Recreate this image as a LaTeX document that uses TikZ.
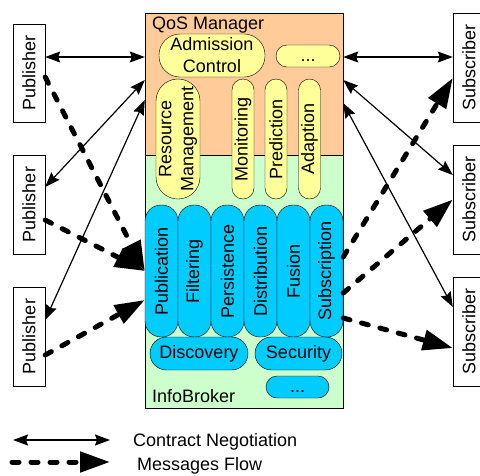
\documentclass[tikz,border=0pt]{standalone}
\usepackage{fontspec}
\setmainfont{Liberation Sans}
\usepackage{graphicx}
\usetikzlibrary{arrows.meta}

\definecolor{qosorange}{HTML}{FFCC99}
\definecolor{brokergreen}{HTML}{CCFFCC}
\definecolor{modyellow}{HTML}{FFFF99}
\definecolor{svcblue}{HTML}{00CCFF}

\newcommand{\vtext}[1]{\rotatebox{90}{#1}}

\tikzset{
  endbox/.style={draw, fill=white, inner sep=0pt, minimum width=32pt},
  modpill/.style={draw, fill=modyellow, inner sep=0pt},
  svcpill/.style={draw, fill=svcblue, inner sep=0pt, rounded corners=16pt, minimum width=33pt, minimum height=132pt},
  svcbar/.style={draw, fill=svcblue, inner sep=0pt},
  negot/.style={{Stealth[length=15pt,width=11pt,inset=2pt]}-{Stealth[length=15pt,width=11pt,inset=2pt]}, line width=1.2pt},
  msgflow/.style={-{Triangle[length=30pt,width=20pt]}, line width=5pt, line cap=round, dash pattern=on 7pt off 12pt},
}

\begin{document}
\begin{tikzpicture}[x=1pt, y=-1pt, font=\fontsize{18}{22}\selectfont]
  \useasboundingbox (0,0) rectangle (480,475);

  % QoS Manager and InfoBroker
  \node[draw, fill=qosorange, minimum width=198pt, minimum height=142pt, inner sep=0pt] (qos) at (244,84) {};
  \node[draw, fill=brokergreen, minimum width=198pt, minimum height=253pt, inner sep=0pt] (broker) at (244,281.5) {};
  \node[anchor=base west, inner sep=0pt] (qoslbl) at (152,29) {QoS Manager};
  \node[anchor=base west, inner sep=0pt] (brokerlbl) at (152,402) {InfoBroker};

  \node[modpill, rounded corners=21pt, minimum width=106pt, minimum height=43pt, align=center] (admctl) at (212,55.5) {Admission\\Control};
  \node[modpill, rounded corners=11pt, minimum width=64pt, minimum height=22pt, text height=10pt, text depth=0pt] (qosmore) at (308,56) {...};
  \node[modpill, rounded corners=22pt, minimum width=44pt, minimum height=120pt] (resmgmt) at (178,139) {\vtext{\begin{tabular}{@{}c@{}}Resource\\Management\end{tabular}}};
  \node[modpill, rounded corners=11pt, minimum width=22pt, minimum height=120pt] (monit) at (243,139) {\vtext{Monitoring}};
  \node[modpill, rounded corners=11pt, minimum width=22pt, minimum height=120pt] (predict) at (276,139) {\vtext{Prediction}};
  \node[modpill, rounded corners=11pt, minimum width=22pt, minimum height=120pt] (adapt) at (309.5,139) {\vtext{Adaption}};

  \node[svcpill] (publ) at (161.5,271) {\vtext{Publication}};
  \node[svcpill] (filt) at (194.5,271) {\vtext{Filtering}};
  \node[svcpill] (pers) at (227.5,271) {\vtext{Persistence}};
  \node[svcpill] (distr) at (260.5,271) {\vtext{Distribution}};
  \node[svcpill] (fus) at (293.5,271) {\vtext{Fusion}};
  \node[svcpill] (subs) at (326.5,271) {\vtext{Subscription}};
  \node[svcbar, rounded corners=16.5pt, minimum width=98pt, minimum height=33pt] (disc) at (199,353.5) {Discovery};
  \node[svcbar, rounded corners=16.5pt, minimum width=87pt, minimum height=33pt] (secur) at (298.5,353.5) {Security};
  \node[svcbar, rounded corners=11pt, minimum width=63pt, minimum height=22pt, text height=10pt, text depth=0pt] (brokermore) at (297.5,387) {...};

  % publishers and subscribers
  \node[endbox, minimum height=98pt] (pub1) at (29,73) {\vtext{Publisher}};
  \node[endbox, minimum height=99pt] (pub2) at (29,204.5) {\vtext{Publisher}};
  \node[endbox, minimum height=99pt] (pub3) at (29,336.5) {\vtext{Publisher}};
  \node[endbox, minimum height=109pt] (sub1) at (469,67.5) {\vtext{Subscriber}};
  \node[endbox, minimum height=109pt] (sub2) at (469,199.5) {\vtext{Subscriber}};
  \node[endbox, minimum height=109pt] (sub3) at (469,331.5) {\vtext{Subscriber}};

  % contract negotiation
  \draw[negot] ([yshift=16pt]pub1.east) -- ([yshift=27pt]qos.west);
  \draw[negot] ([yshift=17.5pt]pub2.east) -- ([yshift=4pt]qos.west);
  \draw[negot] ([yshift=16.5pt]pub3.east) -- ([yshift=-16pt]qos.west);
  \draw[negot] ([yshift=27pt]qos.east) -- ([yshift=10.5pt]sub1.west);
  \draw[negot] ([yshift=4pt]qos.east) -- ([yshift=24.5pt]sub2.west);
  \draw[negot] ([yshift=-19pt]qos.east) -- ([yshift=24.5pt]sub3.west);

  % messages flow
  \draw[msgflow] ([yshift=-4pt]pub1.east) -- (publ.west);
  \draw[msgflow] ([yshift=-15.5pt]pub2.east) -- (publ.west);
  \draw[msgflow] ([yshift=-18.5pt]pub3.east) -- ([yshift=-29pt]publ.west);
  \draw[msgflow] ([yshift=14pt]subs.east) -- ([yshift=-10.5pt]sub1.west);
  \draw[msgflow] ([yshift=-22pt]subs.east) -- (sub2.west);
  \draw[msgflow] ([yshift=-47pt]subs.east) -- ([yshift=-16.5pt]sub3.west);

  % legend
  \coordinate (negA) at (13,440);
  \coordinate (negB) at (110,440);
  \draw[negot] (negA) -- (negB);
  \node[anchor=base west, inner sep=0pt] (neglbl) at (133,446) {Contract Negotiation};
  \coordinate (msgA) at (12,462);
  \coordinate (msgB) at (110,462);
  \draw[msgflow] (msgA) -- (msgB);
  \node[anchor=base west, inner sep=0pt] (msglbl) at (137,470.5) {Messages Flow};
\end{tikzpicture}
\end{document}
